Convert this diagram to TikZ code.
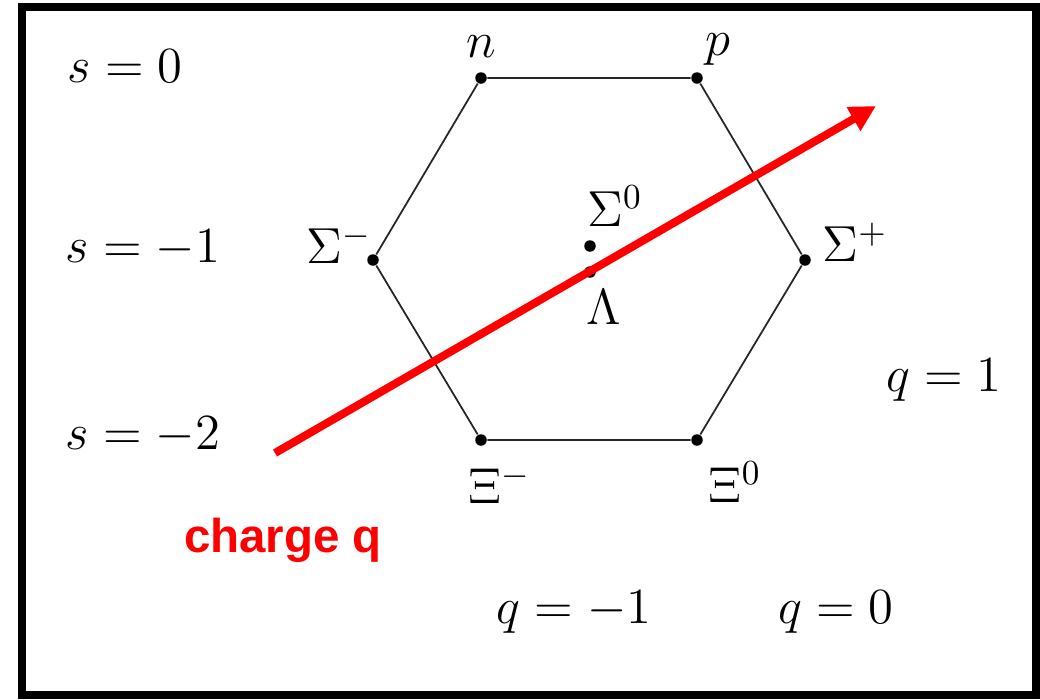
\documentclass[tikz,border=0pt]{standalone}
\usepackage{fontspec}
\newfontfamily\arialfont{Liberation Sans}
\usetikzlibrary{arrows.meta}
\tikzset{
    % particle dots and labels
    particle/.style={circle, fill=black, inner sep=0pt, minimum size=0.115cm},
    plabel/.style={font=\fontsize{13.6}{16}\selectfont, inner sep=0pt},
    % hexagon edges
    edge/.style={draw=black!85, line width=0.5pt},
    % charge axis
    charge arrow/.style={-{Triangle[length=2.6mm, width=2.6mm]}, red, line width=0.08cm},
}
\begin{document}
\begin{tikzpicture}[x=0.01cm, y=-0.01cm]
    \useasboundingbox (0,0) rectangle (1040,699);
    \fill[white] (0,0) rectangle (1040,699);
    \draw[line width=0.085cm] (22,7) rectangle (1036,695);

    % Octet states
    \node[particle] (n) at (481,78) {};
    \node[particle] (p) at (697,78) {};
    \node[particle] (sigm) at (373,260) {};
    \node[particle] (sigp) at (805,260) {};
    \node[particle] (xim) at (481,440) {};
    \node[particle] (xiz) at (697,440) {};
    \node[particle] (sigz) at (590,246) {};
    \node[particle] (lam) at (590,272) {};

    % Hexagon
    \draw[edge] (n) -- (p) -- (sigp) -- (xiz) -- (xim) -- (sigm) -- (n);

    % Particle labels
    \node[plabel] at (481,47) {$n$};
    \node[plabel] at (718,50) {$p$};
    \node[plabel] at (339,244) {$\Sigma^-$};
    \node[plabel] at (855,242) {$\Sigma^+$};
    \node[plabel] at (615,206) {$\Sigma^0$};
    \node[plabel] at (604,307) {$\Lambda$};
    \node[plabel] at (500,484) {$\Xi^-$};
    \node[plabel] at (735,482) {$\Xi^0$};

    % Strangeness and charge labels
    \node[plabel] at (125,66) {$s=0$};
    \node[plabel] at (143,248) {$s=-1$};
    \node[plabel] at (143,435) {$s=-2$};
    \node[plabel] at (944,380) {$q=1$};
    \node[plabel] at (574,612) {$q=-1$};
    \node[plabel] at (836,612) {$q=0$};

    % Charge axis
    \coordinate (qstart) at (275,453);
    \coordinate (qend) at (876,106);
    \draw[charge arrow] (qstart) -- (qend);
    \node[font=\arialfont\bfseries\fontsize{13.5}{16}\selectfont, text=red, inner sep=0pt]
        (qlabel) at (283,540) {charge q};
\end{tikzpicture}
\end{document}
